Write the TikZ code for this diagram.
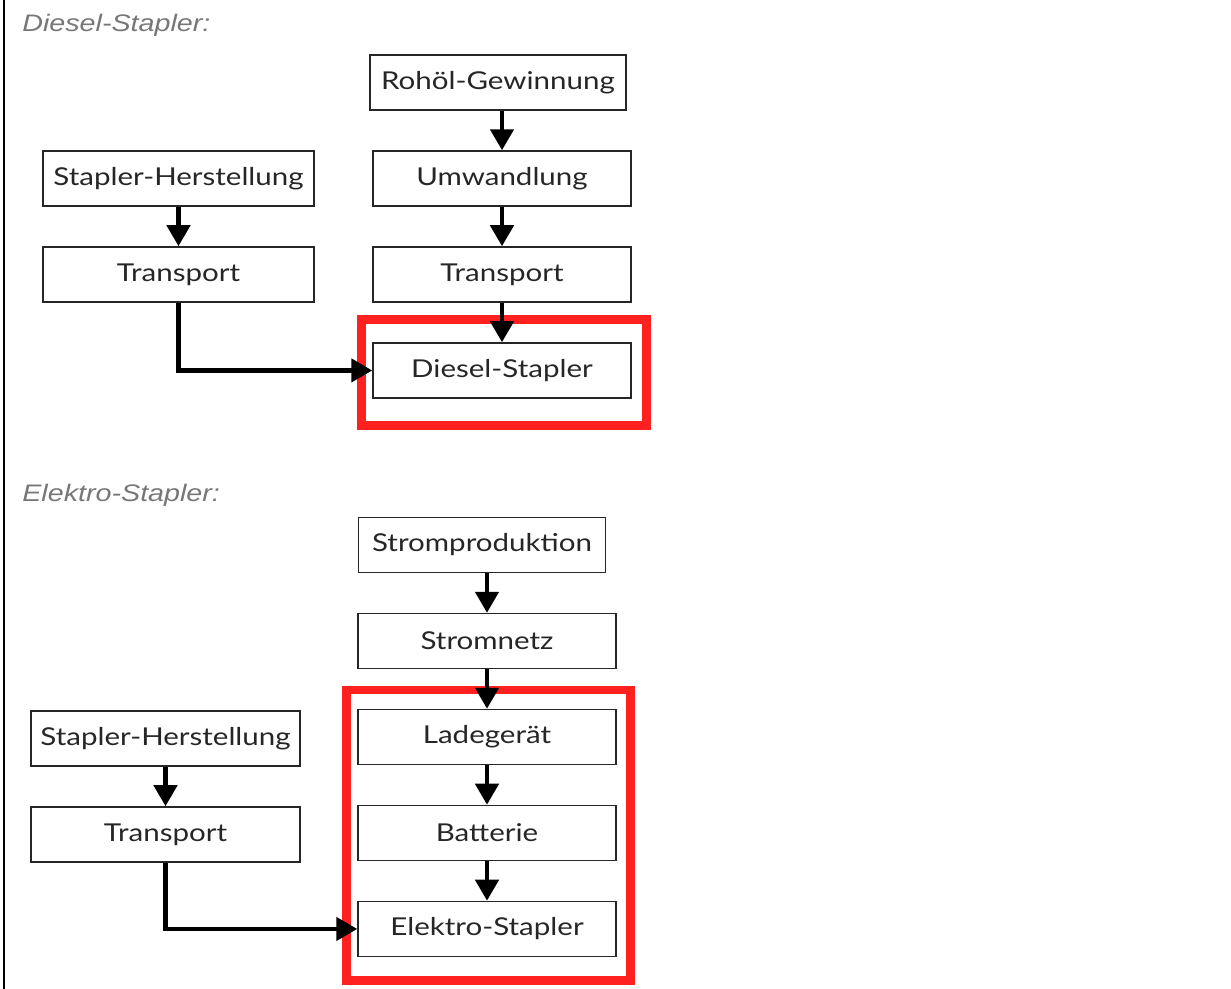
\documentclass[tikz,border=0pt]{standalone}
\usepackage{fontspec}
\newfontfamily\boxfont[FakeStretch=1.2]{Lato}
\newfontfamily\headfont[FakeStretch=1.2]{Liberation Sans}
\usetikzlibrary{shapes.geometric, arrows.meta}
\definecolor{framered}{HTML}{FF2020}
\definecolor{headgray}{HTML}{777777}

\begin{document}
\begin{tikzpicture}[x=0.02cm,y=-0.02cm,node distance=1.92cm,
  box/.style={draw=black!85,line width=0.03cm,rectangle,minimum height=1.1cm,
    minimum width=5.16cm,text centered,inner sep=0pt,text=black!85,
    font=\boxfont\fontsize{14}{16}\selectfont},
  head/.style={anchor=base west,inner sep=0pt,text=headgray,
    font=\headfont\itshape\fontsize{13.6}{15}\selectfont},
  flow/.style={line width=0.09cm,->,>={Triangle[length=0.42cm,width=0.46cm]}},
  redframe/.style={draw=framered,line width=0.18cm}]
        \useasboundingbox (0,0) rectangle (1231,989);
        \draw[line width=0.04cm] (4,0) -- (4,989);

        % Diesel
        \node[head] (titleD) at (22,32) {Diesel-Stapler:};
        \node[box] (umwandlung) at (502,178.5) {Umwandlung};
        \node[box, minimum width=5.12cm, above of=umwandlung, xshift=-0.08cm] (rohoel) {Rohöl-Gewinnung};
        \node[box, below of=umwandlung] (transportD) {Transport};
        \node[box, below of=transportD] (diesel) {Diesel-Stapler};
        \node[box, minimum width=5.42cm] (herstD) at (178.5,178.5) {Stapler-Herstellung};
        \node[box, minimum width=5.42cm, below of=herstD] (transportDl) {Transport};
        \draw[redframe] (361,320) rectangle (646,426);
        \draw[flow] (umwandlung.north |- rohoel.south) -- (umwandlung.north);
        \draw[flow] (umwandlung) -- (transportD);
        \draw[flow] (transportD) -- (diesel);
        \draw[flow] (herstD) -- (transportDl);
        \draw[flow] (transportDl) |- (diesel);

        % Elektro
        \node[head] (titleE) at (22,502) {Elektro-Stapler:};
        \node[box] (ladegeraet) at (487,737) {Ladegerät};
        \node[box, above of=ladegeraet] (stromnetz) {Stromnetz};
        \node[box, minimum width=4.94cm, above of=stromnetz, xshift=-0.1cm] (stromprod) {Stromproduktion};
        \node[box, below of=ladegeraet] (batterie) {Batterie};
        \node[box, below of=batterie] (elektro) {Elektro-Stapler};
        \node[box, minimum width=5.38cm] (herstE) at (165.5,738.5) {Stapler-Herstellung};
        \node[box, minimum width=5.38cm, below of=herstE] (transportE) {Transport};
        \draw[redframe] (346,690) rectangle (630,980);
        \draw[flow] (stromnetz.north |- stromprod.south) -- (stromnetz.north);
        \draw[flow] (stromnetz) -- (ladegeraet);
        \draw[flow] (ladegeraet) -- (batterie);
        \draw[flow] (batterie) -- (elektro);
        \draw[flow] (herstE) -- (transportE);
        \draw[flow] (transportE) |- (elektro);
\end{tikzpicture}
\end{document}
